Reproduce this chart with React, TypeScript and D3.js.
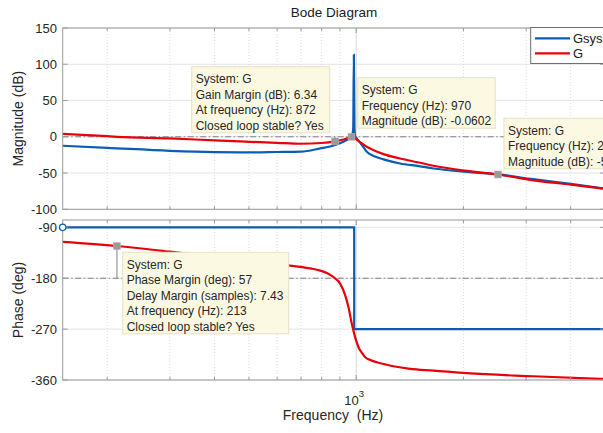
import React from "react";
import * as d3 from "d3";

// ---------- data ----------
const blueMagFreq = [150, 200, 300, 400, 500, 600, 700, 793, 850, 900, 940, 962, 975, 981, 985, 989, 995, 1005, 1013, 1040, 1071, 1120, 1193, 1328, 1500, 1648, 2045, 2500, 3140, 4000, 5000];
const blueMag = [-12.4, -15.2, -19.3, -21.1, -21.5, -21, -20.5, -16, -13, -9, -4.5, -1.5, 3, 12, 113, 10, 0, -2.5, -4.6, -12, -20.7, -26.5, -31.2, -36.8, -40.5, -43.7, -48.3, -51.8, -58.5, -65, -71.5];

const redMagFreq = [150, 200, 213, 300, 400, 500, 600, 700, 800, 872, 920, 950, 970, 990, 1010, 1040, 1071, 1120, 1193, 1328, 1500, 1648, 2045, 2500, 3140, 4000, 5000];
const redMag = [4.1, 0.8, 0, -2.2, -5, -6.9, -8.3, -9.6, -8.6, -6.34, -3.8, -1.8, -0.06, -1.5, -5, -9.5, -13.8, -18.5, -23.9, -29.9, -35.5, -40, -47, -52, -60, -66, -72];

const bluePhaseFreq = [150, 987, 987, 5000];
const bluePhase = [-90, -90, -270, -270];

const redPhaseFreq = [150, 213, 300, 400, 500, 600, 700, 750, 793, 830, 872, 902, 931, 951, 972, 987, 1015, 1040, 1060, 1100, 1143, 1200, 1272, 1417, 1648, 2045, 3140, 4840, 5000];
const redPhase = [-115.6, -123, -133, -142, -148, -154.5, -160, -163, -166.5, -171, -180, -190, -210, -231, -260.5, -278, -302, -313, -319.7, -325, -328.6, -332, -335.7, -340.3, -343.3, -348, -353.4, -358, -358.3];

const magTicks = [150, 100, 50, 0, -50, -100];
const phaseTicks = [-90, -180, -270, -360];
const minorFreqs = [200, 300, 400, 500, 600, 700, 800, 900, 2000, 3000, 4000];
const majorFreqs = [1000];

const seriesNames = ["Gsys", "G"];
const seriesColors = ["#0a5cb4", "#e8000a"];

const tipGM = ["System: G", "Gain Margin (dB): 6.34", "At frequency (Hz): 872", "Closed loop stable? Yes"];
const tipRes = ["System: G", "Frequency (Hz): 970", "Magnitude (dB): -0.0602"];
const tipHi = ["System: G", "Frequency (Hz): 2.5e+03", "Magnitude (dB): -52"];
const tipPM = ["System: G", "Phase Margin (deg): 57", "Delay Margin (samples): 7.43", "At frequency (Hz): 213", "Closed loop stable? Yes"];

// marker points: [freq, value]
const gmPoint = [872, -6.34];
const resPoint = [970, -0.0602];
const hiPoint = [2500, -52];
const pmPoint = [213, -123];

// ---------- layout ----------
const W = 603, H = 433;
const left = 62.7, right = 605.2;
const magTop = 28, magBot = 209.3;
const phTop = 220, phBot = 380;
const FONT = "'Liberation Sans', Arial, Helvetica, sans-serif";

const x = d3.scaleLog().domain([150, 5000]).range([left, right]);
const yMag = d3.scaleLinear().domain([-100, 150]).range([magBot, magTop]);
const yPh = d3.scaleLinear().domain([-360, -77]).range([phBot, phTop]);

function makeLine(fs: number[], vs: number[], y: any, curve: any) {
  const pts = fs.map((f, i) => [f, vs[i]] as [number, number]);
  return d3.line<[number, number]>().x(d => x(d[0])).y(d => y(d[1])).curve(curve)(pts) || "";
}

function Tip({ x0, y0, w, lines }: { x0: number; y0: number; w: number; lines: string[] }) {
  const lh = 15.5;
  const h = lines.length * lh + 4;
  return (
    <g>
      <rect x={x0} y={y0} width={w} height={h} fill="#fcf9e3" stroke="#e6e0c4" strokeWidth={1} />
      {lines.map((t, i) => (
        <text key={i} x={x0 + 4} y={y0 + 16.3 + i * lh} fontSize={12} fontFamily={FONT} fill="#262626">{t}</text>
      ))}
    </g>
  );
}

function Marker({ cx, cy }: { cx: number; cy: number }) {
  return <rect x={cx - 3.5} y={cy - 3.5} width={7} height={7} fill="#9a9a9a" stroke="#b5b5b5" strokeWidth={0.5} />;
}

function Grid({ top, bot, yTicks, y }: { top: number; bot: number; yTicks: number[]; y: any }) {
  return (
    <g>
      {yTicks.map(t => (
        <line key={"h" + t} x1={left} x2={right} y1={y(t)} y2={y(t)} stroke="#e4e4e4" strokeWidth={1} />
      ))}
      {minorFreqs.map(f => (
        <line key={"m" + f} x1={x(f)} x2={x(f)} y1={top} y2={bot} stroke="#d0d0d0" strokeWidth={0.8} strokeDasharray="1,2" />
      ))}
      {majorFreqs.map(f => (
        <line key={"M" + f} x1={x(f)} x2={x(f)} y1={top} y2={bot} stroke="#d6d6d6" strokeWidth={1} />
      ))}
    </g>
  );
}

function Frame({ top, bot, yTicks, y }: { top: number; bot: number; yTicks: number[]; y: any }) {
  const c = "#9a9a9a";
  return (
    <g>
      <rect x={left} y={top} width={right - left} height={bot - top} fill="none" stroke={c} strokeWidth={1} />
      {yTicks.map(t => (
        <g key={t}>
          <line x1={left} x2={left + 5} y1={y(t)} y2={y(t)} stroke={c} />
          <line x1={right} x2={right - 5} y1={y(t)} y2={y(t)} stroke={c} />
        </g>
      ))}
      {minorFreqs.map(f => (
        <g key={f}>
          <line x1={x(f)} x2={x(f)} y1={bot} y2={bot - 3} stroke={c} />
          <line x1={x(f)} x2={x(f)} y1={top} y2={top + 3} stroke={c} />
        </g>
      ))}
      {majorFreqs.map(f => (
        <g key={"M" + f}>
          <line x1={x(f)} x2={x(f)} y1={bot} y2={bot - 5} stroke={c} />
          <line x1={x(f)} x2={x(f)} y1={top} y2={top + 5} stroke={c} />
        </g>
      ))}
      {yTicks.map(t => (
        <text key={"l" + t} x={57} y={y(t) + 4.6} textAnchor="end" fontSize={13} fontFamily={FONT} fill="#262626">{t}</text>
      ))}
    </g>
  );
}

export default function App() {
  const blueMagPath = makeLine(blueMagFreq, blueMag, yMag, d3.curveMonotoneX);
  const redMagPath = makeLine(redMagFreq, redMag, yMag, d3.curveMonotoneX);
  const bluePhPath = makeLine(bluePhaseFreq, bluePhase, yPh, d3.curveLinear);
  const redPhPath = makeLine(redPhaseFreq, redPhase, yPh, d3.curveMonotoneX);
  const dd = "6,2.5,1.5,2.5";
  return (
    <svg width={W} height={H} style={{ position: "absolute", left: 0, top: 0, background: "#fff" }}>
      <defs>
        <clipPath id="cMag"><rect x={left} y={magTop} width={right - left} height={magBot - magTop} /></clipPath>
        <clipPath id="cPh"><rect x={left} y={phTop} width={right - left} height={phBot - phTop} /></clipPath>
      </defs>
      <rect x={0} y={0} width={W} height={H} fill="#fff" />
      <text x={334} y={16.7} textAnchor="middle" fontSize={13.5} fontFamily={FONT} fill="#1a1a1a">Bode Diagram</text>

      {/* magnitude axes */}
      <Grid top={magTop} bot={magBot} yTicks={magTicks} y={yMag} />
      <g clipPath="url(#cMag)">
        <line x1={left} x2={right} y1={yMag(0)} y2={yMag(0)} stroke="#808080" strokeWidth={1} strokeDasharray={dd} />
        <line x1={x(gmPoint[0])} x2={x(gmPoint[0])} y1={yMag(gmPoint[1])} y2={yMag(0)} stroke="#808080" strokeWidth={1} />
        <path d={blueMagPath} fill="none" stroke={seriesColors[0]} strokeWidth={2.2} />
        <path d={redMagPath} fill="none" stroke={seriesColors[1]} strokeWidth={2.2} />
      </g>
      <Frame top={magTop} bot={magBot} yTicks={magTicks} y={yMag} />

      {/* phase axes */}
      <Grid top={phTop} bot={phBot} yTicks={phaseTicks} y={yPh} />
      <g clipPath="url(#cPh)">
        <line x1={left} x2={right} y1={yPh(-180)} y2={yPh(-180)} stroke="#808080" strokeWidth={1} strokeDasharray={dd} />
        <line x1={x(pmPoint[0])} x2={x(pmPoint[0])} y1={yPh(pmPoint[1])} y2={yPh(-180)} stroke="#808080" strokeWidth={1} />
        <path d={bluePhPath} fill="none" stroke={seriesColors[0]} strokeWidth={2.2} />
        <path d={redPhPath} fill="none" stroke={seriesColors[1]} strokeWidth={2.2} />
      </g>
      <Frame top={phTop} bot={phBot} yTicks={phaseTicks} y={yPh} />
      <circle cx={x(bluePhaseFreq[0])} cy={yPh(bluePhase[0])} r={3.2} fill="#fff" stroke={seriesColors[0]} strokeWidth={1.3} />

      {/* markers */}
      <Marker cx={x(gmPoint[0])} cy={yMag(gmPoint[1])} />
      <Marker cx={x(resPoint[0])} cy={yMag(resPoint[1])} />
      <Marker cx={x(hiPoint[0])} cy={yMag(hiPoint[1])} />
      <Marker cx={x(pmPoint[0])} cy={yPh(pmPoint[1])} />

      {/* data tips */}
      <Tip x0={191.7} y0={66.7} w={138} lines={tipGM} />
      <Tip x0={357.7} y0={77.7} w={137.5} lines={tipRes} />
      <Tip x0={504} y0={118.3} w={140} lines={tipHi} />
      <Tip x0={122.7} y0={252.3} w={166} lines={tipPM} />

      {/* legend */}
      <g>
        <rect x={530.7} y={27.5} width={100} height={36} fill="#fff" stroke="#6e6e6e" strokeWidth={1} />
        {seriesNames.map((n, i) => (
          <g key={n}>
            <line x1={535} x2={570} y1={38.3 + i * 15} y2={38.3 + i * 15} stroke={seriesColors[i]} strokeWidth={2.2} />
            <text x={573} y={43 + i * 15} fontSize={13} fontFamily={FONT} fill="#1a1a1a">{n}</text>
          </g>
        ))}
      </g>

      {/* axis labels */}
      <text transform={`translate(22.5,${(magTop + magBot) / 2}) rotate(-90)`} textAnchor="middle" fontSize={14} fontFamily={FONT} fill="#262626">Magnitude (dB)</text>
      <text transform={`translate(22.5,${(phTop + phBot) / 2}) rotate(-90)`} textAnchor="middle" fontSize={14} fontFamily={FONT} fill="#262626">Phase (deg)</text>
      <text x={x(1000) - 12} y={405} fontSize={13} fontFamily={FONT} fill="#262626">10</text>
      <text x={x(1000) + 2.6} y={397} fontSize={9.5} fontFamily={FONT} fill="#262626">3</text>
      <text x={333} y={420} textAnchor="middle" fontSize={14} fontFamily={FONT} fill="#262626" style={{ whiteSpace: "pre" }}>{"Frequency  (Hz)"}</text>
    </svg>
  );
}
